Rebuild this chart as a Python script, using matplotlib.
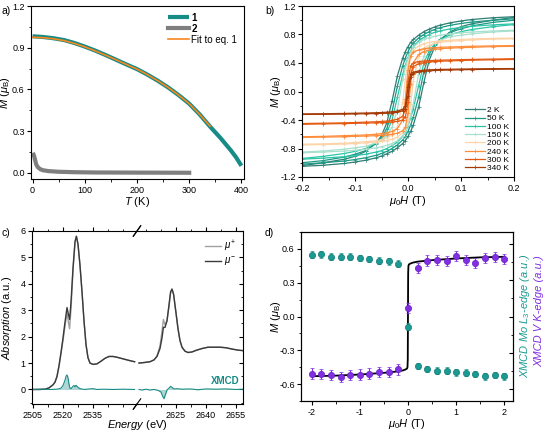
import numpy as np
import matplotlib
matplotlib.use("Agg")
import matplotlib.pyplot as plt
from matplotlib.ticker import MultipleLocator

plt.rcParams['font.family'] = ['Liberation Sans', 'DejaVu Sans']
plt.rcParams['mathtext.fontset'] = 'custom'
plt.rcParams['mathtext.rm'] = 'Liberation Sans'
plt.rcParams['mathtext.it'] = 'Liberation Sans:italic'
plt.rcParams['mathtext.bf'] = 'Liberation Sans:bold'
plt.rcParams['axes.unicode_minus'] = False
plt.rcParams['font.size'] = 6.5
plt.rcParams['axes.linewidth'] = 0.8
plt.rcParams['xtick.major.size'] = 3
plt.rcParams['ytick.major.size'] = 3
plt.rcParams['xtick.minor.size'] = 1.8
plt.rcParams['ytick.minor.size'] = 1.8
plt.rcParams['xtick.major.pad'] = 2
plt.rcParams['ytick.major.pad'] = 1.5

# ---------- panel a : M vs T ----------
T1 = [0, 20, 40, 60, 80, 100, 120, 140, 160, 180, 200, 220, 240, 260, 280,
      300, 320, 340, 360, 380, 390, 400]
M1 = [0.982, 0.977, 0.968, 0.955, 0.934, 0.908, 0.879, 0.847, 0.813, 0.779,
      0.746, 0.706, 0.662, 0.613, 0.558, 0.497, 0.420, 0.332, 0.250, 0.160,
      0.110, 0.050]
T_fit = [0, 20, 40, 60, 80, 100, 120, 140, 160, 180, 200, 220, 240, 260, 280,
         300, 320, 340]
M_fit = [0.975, 0.972, 0.964, 0.951, 0.931, 0.906, 0.877, 0.846, 0.813, 0.779,
         0.746, 0.706, 0.662, 0.613, 0.558, 0.497, 0.420, 0.335]
T2 = [2, 3, 5, 7, 10, 15, 20, 30, 50, 80, 120, 200, 300]
M2 = [0.13, 0.12, 0.09, 0.06, 0.04, 0.025, 0.018, 0.012, 0.007, 0.004,
      0.002, 0.001, 0.0]

# ---------- panel b : hysteresis loops (descending branches) ----------
H_loop = [0.2, 0.16, 0.12, 0.1, 0.08, 0.06, 0.05, 0.04, 0.03, 0.02, 0.01,
          0.005, 0, -0.005, -0.01, -0.02, -0.03, -0.04, -0.05, -0.06, -0.08,
          -0.1, -0.12, -0.16, -0.2]
loop_labels = ['2 K', '50 K', '100 K', '150 K', '200 K', '240 K', '300 K', '340 K']
loop_colors = ['#2d7f73', '#1b9986', '#2cc4a7', '#a8e0cd', '#fdd3a7',
               '#fd8c3b', '#e4580f', '#a53a05']
M_2K = [1.05, 1.035, 1.01, 0.99, 0.965, 0.93, 0.905, 0.875, 0.84, 0.79, 0.73,
        0.69, 0.63, 0.56, 0.47, 0.22, -0.13, -0.44, -0.62, -0.72, -0.84,
        -0.91, -0.95, -1.0, -1.04]
M_50K = [1.02, 1.0, 0.975, 0.955, 0.93, 0.895, 0.87, 0.84, 0.8, 0.75, 0.68,
         0.63, 0.56, 0.47, 0.36, 0.08, -0.28, -0.52, -0.65, -0.73, -0.83,
         -0.88, -0.92, -0.97, -1.0]
M_100K = [0.95, 0.935, 0.915, 0.9, 0.88, 0.85, 0.83, 0.8, 0.76, 0.71, 0.63,
          0.57, 0.48, 0.37, 0.24, -0.08, -0.4, -0.57, -0.66, -0.72, -0.8,
          -0.84, -0.87, -0.91, -0.94]
M_150K = [0.86, 0.85, 0.835, 0.825, 0.81, 0.79, 0.775, 0.755, 0.73, 0.69,
          0.62, 0.56, 0.47, 0.34, 0.17, -0.25, -0.5, -0.62, -0.68, -0.72,
          -0.77, -0.79, -0.81, -0.835, -0.85]
M_200K = [0.75, 0.745, 0.737, 0.73, 0.72, 0.71, 0.7, 0.69, 0.67, 0.64, 0.58,
          0.52, 0.4, 0.18, -0.15, -0.5, -0.61, -0.65, -0.675, -0.69, -0.705,
          -0.715, -0.725, -0.735, -0.74]
M_240K = [0.645, 0.64, 0.635, 0.63, 0.625, 0.62, 0.615, 0.61, 0.6, 0.585,
          0.55, 0.5, 0.3, -0.1, -0.4, -0.52, -0.56, -0.58, -0.59, -0.6,
          -0.61, -0.615, -0.62, -0.63, -0.635]
M_300K = [0.46, 0.455, 0.45, 0.447, 0.443, 0.44, 0.437, 0.433, 0.428, 0.42,
          0.4, 0.36, 0.15, -0.25, -0.35, -0.39, -0.405, -0.415, -0.42,
          -0.425, -0.43, -0.435, -0.44, -0.445, -0.45]
M_340K = [0.322, 0.32, 0.317, 0.315, 0.312, 0.31, 0.307, 0.304, 0.3, 0.29,
          0.27, 0.24, 0.06, -0.2, -0.25, -0.275, -0.285, -0.29, -0.295,
          -0.298, -0.302, -0.305, -0.308, -0.312, -0.315]
loops = [M_2K, M_50K, M_100K, M_150K, M_200K, M_240K, M_300K, M_340K]

# ---------- panel c : XAS / XMCD ----------
E_left = [2505, 2508, 2511, 2513, 2515, 2516, 2517, 2518, 2519, 2520, 2521,
          2522, 2522.7, 2523.3, 2524, 2525, 2526, 2526.7, 2527.5, 2528.5,
          2529.5, 2530.5, 2531.5, 2532.5, 2533.5, 2535, 2537, 2539, 2541,
          2543, 2545, 2547, 2549, 2551, 2553, 2555.8]
mu_minus_left = [0, 0, 0.01, 0.06, 0.18, 0.28, 0.5, 0.9, 1.4, 1.95, 2.55, 3.1,
                 2.85, 2.65, 3.3, 4.6, 5.6, 5.8, 5.5, 4.7, 3.7, 2.6, 1.7, 1.2,
                 1.0, 0.95, 0.97, 1.07, 1.18, 1.25, 1.25, 1.22, 1.18, 1.14,
                 1.1, 1.05]
mu_plus_left = [0, 0, 0.01, 0.06, 0.17, 0.27, 0.48, 0.87, 1.35, 1.85, 2.4,
                2.9, 2.55, 2.3, 3.05, 4.5, 5.55, 5.8, 5.5, 4.7, 3.7, 2.6, 1.7,
                1.2, 1.0, 0.95, 0.97, 1.07, 1.18, 1.25, 1.25, 1.22, 1.18,
                1.14, 1.1, 1.05]
E_right = [2606.5, 2609, 2612, 2614, 2615.5, 2617, 2618, 2618.7, 2619.5,
           2620.5, 2621.5, 2622.3, 2623, 2623.8, 2625, 2626, 2627, 2628,
           2629.5, 2631, 2633, 2635, 2638, 2641, 2644, 2647, 2650, 2653,
           2656, 2658.5]
mu_minus_right = [1.0, 1.02, 1.05, 1.12, 1.25, 1.55, 1.95, 2.35, 2.35, 2.6,
                  3.2, 3.7, 3.8, 3.6, 2.9, 2.3, 1.85, 1.6, 1.45, 1.4, 1.42,
                  1.48, 1.55, 1.6, 1.6, 1.6, 1.58, 1.53, 1.49, 1.47]
mu_plus_right = [1.0, 1.02, 1.05, 1.12, 1.27, 1.65, 2.2, 2.65, 2.45, 2.6,
                 3.15, 3.65, 3.8, 3.6, 2.9, 2.3, 1.85, 1.6, 1.45, 1.4, 1.42,
                 1.48, 1.55, 1.6, 1.6, 1.6, 1.58, 1.53, 1.49, 1.47]
E_xmcd_left = [2505, 2510, 2514, 2517, 2519, 2520, 2521, 2521.5, 2522,
               2522.5, 2523, 2523.5, 2524, 2525, 2525.5, 2526, 2526.5, 2527,
               2528, 2529, 2531, 2533, 2535, 2537, 2540, 2545, 2550, 2555.8]
xmcd_left = [0, 0.01, 0, 0.01, 0.05, 0.15, 0.35, 0.5, 0.55, 0.45, 0.2, 0.05,
             0.03, 0.12, 0.15, 0.1, 0.16, 0.12, 0.05, 0.02, 0.0, 0.02, 0.03,
             0.0, 0.01, 0.0, 0.01, 0.0]
E_xmcd_right = [2606.5, 2608, 2610, 2612, 2614, 2616, 2617.5, 2618.3, 2619,
                2619.7, 2620.5, 2621.5, 2622.3, 2623, 2624, 2625.5, 2628,
                2632, 2636, 2640, 2645, 2650, 2655, 2658.5]
xmcd_right = [0, -0.02, 0.01, -0.02, 0, -0.03, -0.1, -0.25, -0.35, -0.2,
              -0.02, 0.05, 0.12, 0.08, 0.02, 0.03, 0.01, 0.02, -0.01, 0.02,
              0.01, 0.02, 0.0, 0.01]

# ---------- panel d : element-specific loops ----------
H_pts = [-2, -1.8, -1.6, -1.4, -1.2, -1, -0.8, -0.6, -0.4, -0.2, 0, 0.2, 0.4,
         0.6, 0.8, 1, 1.2, 1.4, 1.6, 1.8, 2]
mo_vals = [0.547, 0.553, 0.53, 0.53, 0.53, 0.52, 0.51, 0.494, 0.49, 0.47,
           -0.09, -0.44, -0.465, -0.48, -0.48, -0.494, -0.5, -0.51, -0.53,
           -0.52, -0.53]
mo_err = [0.03] * 21
v_vals = [-0.506, -0.51, -0.52, -0.535, -0.52, -0.515, -0.506, -0.49, -0.494,
          -0.47, 0.076, 0.43, 0.497, 0.503, 0.494, 0.54, 0.503, 0.476, 0.52,
          0.526, 0.51]
v_err = [0.045] * 21
H_line = [-2, -1.5, -1, -0.5, -0.2, -0.1, -0.05, -0.02, -0.01, -0.004, 0,
          0.004, 0.01, 0.02, 0.05, 0.1, 0.2, 0.5, 1, 1.5, 2]
M_line = [-0.53, -0.525, -0.515, -0.5, -0.487, -0.478, -0.47, -0.462, -0.45,
          -0.38, 0, 0.38, 0.45, 0.462, 0.47, 0.478, 0.487, 0.5, 0.515, 0.525,
          0.53]

teal = '#178b86'
W, H = 546, 433
LAB = 8
fig = plt.figure(figsize=(W / 100, H / 100), dpi=100)


def box(l, t, r, b):
    return [l / W, 1 - b / H, (r - l) / W, (b - t) / H]


def place_labels(ax, l, t, r, b, xlab_y, ylab_x):
    # put axis labels at given figure pixel positions
    ax.xaxis.set_label_coords(0.5, (b - xlab_y) / (b - t))
    ax.xaxis.label.set_va('center')
    ax.yaxis.set_label_coords((ylab_x - l) / (r - l), 0.5)
    ax.yaxis.label.set_va('center')


# ---- a ----
ax_a = fig.add_axes(box(31, 6, 244, 179))
ax_a.plot(T1, M1, color=teal, lw=3, label='1', solid_capstyle='butt')
ax_a.plot(T2, M2, color='#7f7f7f', lw=3, label='2')
ax_a.plot(T_fit, M_fit, color='#f7871f', lw=1.2, label='Fit to eq. 1')
ax_a.set_xlim(-3, 405)
ax_a.set_ylim(-0.045, 1.2)
ax_a.xaxis.set_major_locator(MultipleLocator(100))
ax_a.xaxis.set_minor_locator(MultipleLocator(50))
ax_a.yaxis.set_major_locator(MultipleLocator(0.3))
ax_a.yaxis.set_minor_locator(MultipleLocator(0.15))
ax_a.yaxis.set_major_formatter(plt.FormatStrFormatter('%.1f'))
ax_a.set_xlabel(r'$T$ (K)', fontsize=LAB)
ax_a.set_ylabel(r'$M$ ($\mu_\mathrm{B}$)', fontsize=LAB)
place_labels(ax_a, 31, 6, 244, 179, 202, 5.5)
leg = ax_a.legend(loc='upper right', frameon=False, fontsize=7,
                  handlelength=2.2, handletextpad=0.2, labelspacing=0.1,
                  borderaxespad=0.3)
for t in leg.get_texts()[:2]:
    t.set_fontweight('bold')
ax_a.tick_params(which='both', direction='out')

# ---- b ----
ax_b = fig.add_axes(box(302, 6, 514, 177))
H_up = [-h for h in H_loop]
for lab, col, Md in zip(loop_labels, loop_colors, loops):
    ax_b.plot(H_loop, Md, color=col, lw=0.9, marker='+', ms=2.5, mew=0.5,
              label=lab)
    ax_b.plot(H_up, [-m for m in Md], color=col, lw=0.9, marker='+', ms=2.5,
              mew=0.5)
ax_b.set_xlim(-0.2, 0.2)
ax_b.set_ylim(-1.2, 1.2)
ax_b.xaxis.set_major_locator(MultipleLocator(0.1))
ax_b.xaxis.set_minor_locator(MultipleLocator(0.05))
ax_b.yaxis.set_major_locator(MultipleLocator(0.4))
ax_b.yaxis.set_minor_locator(MultipleLocator(0.2))
ax_b.yaxis.set_major_formatter(plt.FormatStrFormatter('%.1f'))
ax_b.set_xlabel(r'$\mu_0H$ (T)', fontsize=LAB)
ax_b.set_ylabel(r'$M$ ($\mu_\mathrm{B}$)', fontsize=LAB)
place_labels(ax_b, 302, 6, 514, 177, 201, 276)
ax_b.legend(loc='lower right', frameon=False, fontsize=6, handlelength=2.4,
            handletextpad=0.2, labelspacing=0.05, borderaxespad=0.2)
ax_b.tick_params(which='both', direction='out')

# ---- c (broken axis) ----
ax_c1 = fig.add_axes(box(32, 231, 137, 404))
ax_c2 = fig.add_axes(box(137, 231, 243, 404), sharey=ax_c1)
for ax, E, mp, mm, Ex, xm in [(ax_c1, E_left, mu_plus_left, mu_minus_left,
                               E_xmcd_left, xmcd_left),
                              (ax_c2, E_right, mu_plus_right, mu_minus_right,
                               E_xmcd_right, xmcd_right)]:
    ax.plot(E, mp, color='#a0a0a0', lw=1.0, label=r'$\mu^{+}$')
    ax.plot(E, mm, color='#3a3a3a', lw=1.0, label=r'$\mu^{-}$')
    ax.fill_between(Ex, xm, 0, color=teal, alpha=0.35, lw=0)
    ax.plot(Ex, xm, color=teal, lw=0.8)
    ax.xaxis.set_minor_locator(MultipleLocator(7.5))
    ax.tick_params(which='both', direction='out')
    ax.tick_params(axis='x', which='both', top=True)
ax_c1.set_xlim(2504.5, 2557)
ax_c2.set_xlim(2605.5, 2658.5)
ax_c1.set_ylim(-0.55, 6)
ax_c1.yaxis.set_major_locator(MultipleLocator(1))
ax_c1.yaxis.set_minor_locator(MultipleLocator(0.5))
ax_c1.spines['right'].set_visible(False)
ax_c2.spines['left'].set_visible(False)
ax_c2.tick_params(axis='y', which='both', left=False, labelleft=False,
                  right=True, direction='in')
ax_c1.set_xticks([2505, 2520, 2535])
ax_c2.set_xticks([2625, 2640, 2655])
ax_c1.set_ylabel(r'$Absorption$ (a.u.)', fontsize=LAB)
ax_c1.yaxis.set_label_coords((7 - 32) / 105, 0.5)
ax_c1.yaxis.label.set_va('center')
fig.text(137 / W, 1 - 425 / H, r'$Energy$ (eV)', fontsize=LAB,
         ha='center', va='center')
ax_c2.legend(loc='upper right', frameon=False, fontsize=7, handlelength=1.6,
             handletextpad=0.3, labelspacing=0.1, borderaxespad=0.4)
ax_c2.text(0.97, 0.135, 'XMCD', color=teal, fontweight='bold', fontsize=7,
           ha='right', va='center', transform=ax_c2.transAxes)
# break marks
for ax, xb in [(ax_c1, 1.0), (ax_c2, 0.0)]:
    for yb in (0.0, 1.0):
        ax.plot([xb - 0.035, xb + 0.035], [yb - 0.03, yb + 0.03],
                transform=ax.transAxes, color='black', lw=0.8, clip_on=False)

# ---- d ----
ax_d = fig.add_axes(box(301, 232, 513, 401))
ax_d.plot(H_line, M_line, color='black', lw=1.3, zorder=2)
ax_d.errorbar(H_pts, mo_vals, yerr=mo_err, fmt='o', color='#1a9a92', ms=4.5,
              mec='#137a74', mew=0.5, elinewidth=0.8, capsize=1.5, zorder=3)
ax_d.errorbar(H_pts, v_vals, yerr=v_err, fmt='o', color='#8030e0', ms=4.5,
              mec='#6a1fc8', mew=0.5, elinewidth=0.8, capsize=1.5, zorder=4)
ax_d.set_xlim(-2.22, 2.18)
ax_d.set_ylim(-0.75, 0.75)
ax_d.xaxis.set_major_locator(MultipleLocator(1))
ax_d.xaxis.set_minor_locator(MultipleLocator(0.5))
ax_d.yaxis.set_major_locator(MultipleLocator(0.3))
ax_d.yaxis.set_minor_locator(MultipleLocator(0.15))
ax_d.yaxis.set_major_formatter(plt.FormatStrFormatter('%.1f'))
ax_d.tick_params(which='both', direction='out')
ax_d.set_xlabel(r'$\mu_0H$ (T)', fontsize=LAB)
ax_d.set_ylabel(r'$M$ ($\mu_\mathrm{B}$)', fontsize=LAB)
place_labels(ax_d, 301, 232, 513, 401, 424, 276)
ax_d2 = ax_d.twinx()
ax_d2.set_ylim(-0.7, 0.7)
ax_d2.yaxis.set_major_locator(MultipleLocator(0.3))
ax_d2.yaxis.set_minor_locator(MultipleLocator(0.15))
ax_d2.tick_params(which='both', direction='in', labelright=False)
fig.text(525 / W, 1 - 316 / H, r'XMCD Mo $L_3$-edge (a.u.)', color='#1a9a92',
         rotation=90, fontsize=8, style='italic', ha='center', va='center')
fig.text(539 / W, 1 - 311 / H, 'XMCD V K-edge (a.u.)', color='#8030e0',
         rotation=90, fontsize=8, style='italic', ha='center', va='center')

# panel letters
fig.text(1 / W, 1 - 11 / H, 'a)', fontsize=7.5, va='center')
fig.text(265 / W, 1 - 11 / H, 'b)', fontsize=7.5, va='center')
fig.text(1 / W, 1 - 233 / H, 'c)', fontsize=7.5, va='center')
fig.text(265 / W, 1 - 233 / H, 'd)', fontsize=7.5, va='center')

fig.savefig('out.png', dpi=100)
